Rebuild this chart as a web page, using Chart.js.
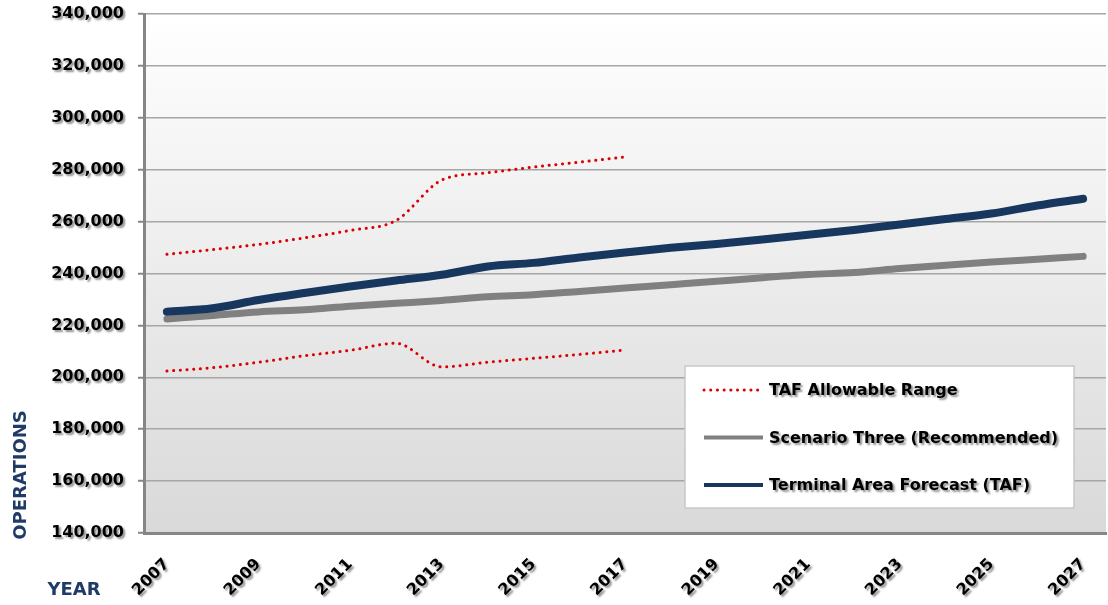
<!DOCTYPE html>
<html>
<head>
<meta charset="utf-8">
<script src="https://cdn.jsdelivr.net/npm/chart.js@4.4.1/dist/chart.umd.min.js"></script>
<style>
  html, body { margin: 0; padding: 0; background: #ffffff; }
  #wrap { width: 1108px; height: 605px; }
</style>
</head>
<body>
<div id="wrap"><canvas id="c" width="1108" height="605"></canvas></div>
<script>
const years = ["2007","2008","2009","2010","2011","2012","2013","2014","2015","2016","2017",
               "2018","2019","2020","2021","2022","2023","2024","2025","2026","2027"];
const tafForecast = [225300, 226600, 229800, 232500, 235000, 237300, 239500, 242700, 244100, 246200, 248100,
                     249900, 251400, 253100, 254900, 256800, 258900, 261000, 263100, 266200, 268800];
const scenarioThree = [222500, 223800, 225200, 226000, 227400, 228500, 229600, 231000, 231800, 233100, 234400,
                       235700, 237000, 238400, 239600, 240400, 241900, 243200, 244400, 245500, 246600];
const tafRangeUpper = [247400, 249200, 251200, 253700, 256600, 260400, 276000, 278800, 281000, 282900, 284900,
                       null, null, null, null, null, null, null, null, null, null];
const tafRangeLower = [202400, 203700, 205800, 208300, 210400, 213100, 204000, 205800, 207300, 208800, 210500,
                       null, null, null, null, null, null, null, null, null, null];
const yTicks = { min: 140000, max: 340000, step: 20000 };
const legendLabels = ["TAF Allowable Range", "Scenario Three (Recommended)", "Terminal Area Forecast (TAF)"];
const axisTitles = { y: "OPERATIONS", x: "YEAR" };

const FONT = "'DejaVu Sans', Verdana, sans-serif";
const RED = "#dd0000", GRAY = "#808080", NAVY = "#17375e", TITLE = "#1f3b66";

const shadowText = {
  id: 'shadowText',
  beforeInit(chart) {
    const ctx = chart.ctx;
    const orig = ctx.fillText.bind(ctx);
    chart.$rawFillText = orig;
    ctx.fillText = function (...a) {
      ctx.save();
      ctx.shadowColor = 'rgba(0,0,0,0.45)';
      ctx.shadowOffsetX = 2;
      ctx.shadowOffsetY = 2;
      ctx.shadowBlur = 2;
      orig(...a);
      ctx.restore();
    };
  }
};

const plotBg = {
  id: 'plotBg',
  beforeDraw(chart) {
    const { ctx, chartArea: a } = chart;
    const g = ctx.createLinearGradient(0, a.top, 0, a.bottom);
    g.addColorStop(0, '#ffffff');
    g.addColorStop(1, '#d9d9d9');
    ctx.save();
    ctx.fillStyle = g;
    ctx.fillRect(a.left, a.top, a.right - a.left, a.bottom - a.top);
    ctx.restore();
  }
};

const customLegend = {
  id: 'customLegend',
  afterDatasetsDraw(chart) {
    const ctx = chart.ctx;
    const bx = 685, by = 366, bw = 389, bh = 142;
    ctx.save();
    ctx.fillStyle = '#ffffff';
    ctx.fillRect(bx, by, bw, bh);
    ctx.strokeStyle = '#c8c8c8';
    ctx.lineWidth = 1.5;
    ctx.strokeRect(bx, by, bw, bh);
    const items = chart.data.datasets.filter(d => d.legendIndex !== undefined)
      .sort((p, q) => p.legendIndex - q.legendIndex);
    items.forEach((d, i) => {
      const y = 390 + i * 47.5;
      ctx.save();
      ctx.beginPath();
      ctx.strokeStyle = d.borderColor;
      ctx.lineWidth = d.borderDash && d.borderDash.length ? 3 : 4;
      ctx.lineCap = d.borderDash && d.borderDash.length ? 'round' : 'butt';
      ctx.setLineDash(d.borderDash || []);
      ctx.moveTo(704, y);
      ctx.lineTo(763, y);
      ctx.stroke();
      ctx.restore();
      ctx.fillStyle = '#000000';
      ctx.font = "bold 16px " + FONT;
      ctx.textAlign = 'left';
      ctx.textBaseline = 'middle';
      ctx.fillText(legendLabels[d.legendIndex], 769, y + 1);
    });
    ctx.restore();
  }
};

const axisTitlePlugin = {
  id: 'axisTitlePlugin',
  afterDraw(chart) {
    const ctx = chart.ctx;
    const raw = chart.$rawFillText;
    ctx.save();
    ctx.fillStyle = TITLE;
    ctx.font = "bold 18px " + FONT;
    ctx.textAlign = 'center';
    ctx.textBaseline = 'middle';
    ctx.save();
    ctx.translate(21, 475);
    ctx.rotate(-Math.PI / 2);
    raw(axisTitles.y, 0, 0);
    ctx.restore();
    raw(axisTitles.x, 74, 590);
    ctx.restore();
  }
};

Chart.defaults.font.family = FONT;

new Chart(document.getElementById('c'), {
  type: 'line',
  data: {
    labels: years,
    datasets: [
      { label: legendLabels[2], legendIndex: 2, data: tafForecast, borderColor: NAVY, borderWidth: 8,
        borderCapStyle: 'round', borderJoinStyle: 'round', order: 1 },
      { label: legendLabels[1], legendIndex: 1, data: scenarioThree, borderColor: GRAY, borderWidth: 7,
        borderCapStyle: 'round', borderJoinStyle: 'round', order: 2 },
      { label: legendLabels[0], legendIndex: 0, data: tafRangeUpper, borderColor: RED, borderWidth: 3,
        borderDash: [0.1, 6.6], borderCapStyle: 'round', order: 3 },
      { label: legendLabels[0] + " (lower)", data: tafRangeLower, borderColor: RED, borderWidth: 3,
        borderDash: [0.1, 6.6], borderCapStyle: 'round', order: 4 }
    ]
  },
  options: {
    responsive: false,
    animation: false,
    layout: { padding: { top: 14, right: 2, left: 0, bottom: 0 } },
    elements: { point: { radius: 0, hoverRadius: 0 }, line: { cubicInterpolationMode: 'monotone' } },
    spanGaps: false,
    plugins: { legend: { display: false }, tooltip: { enabled: false } },
    scales: {
      x: {
        type: 'category',
        offset: true,
        grid: { display: false, drawTicks: false },
        border: { display: true, color: '#868686', width: 3 },
        ticks: {
          autoSkip: false,
          minRotation: 45, maxRotation: 45,
          padding: 22,
          color: '#000000',
          font: { size: 16, weight: 'bold' },
          callback: function (v, i) { return i % 2 === 0 ? this.getLabelForValue(v) : ''; }
        },
        afterFit(scale) { scale.height = 72; scale.paddingRight = 0; scale.paddingLeft = 0; }
      },
      y: {
        min: yTicks.min, max: yTicks.max,
        grid: { color: '#a6a6a6', lineWidth: 1.5, tickLength: 6, drawTicks: true, tickColor: '#868686', tickWidth: 2 },
        border: { display: true, color: '#868686', width: 3 },
        ticks: {
          stepSize: yTicks.step,
          padding: 14,
          color: '#000000',
          font: { size: 16, weight: 'bold' },
          callback: v => v.toLocaleString('en-US')
        },
        afterFit(scale) { scale.width = 144; scale.paddingTop = 0; scale.paddingBottom = 0; }
      }
    }
  },
  plugins: [shadowText, plotBg, customLegend, axisTitlePlugin]
});
</script>
</body>
</html>
